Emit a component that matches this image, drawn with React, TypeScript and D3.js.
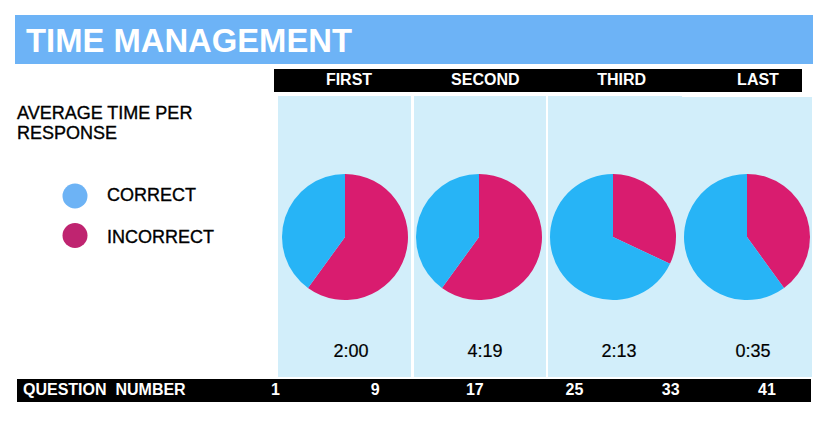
import React from "react";
import * as d3 from "d3";

const segments = ["FIRST", "SECOND", "THIRD", "LAST"];
const incorrectShare = [60, 60, 32, 40];
const correctShare = [40, 40, 68, 60];
const avgTimes = ["2:00", "4:19", "2:13", "0:35"];
const questionTicks = [1, 9, 17, 25, 33, 41];
const legendItems = ["CORRECT", "INCORRECT"];

const W = 839;
const H = 422;
const FONT = "'Liberation Sans', Arial, Helvetica, sans-serif";

const COLORS = {
  banner: "#6DB3F6",
  panel: "#D2EEFA",
  pieCorrect: "#27B4F6",
  pieIncorrect: "#D91C6F",
  legendCorrect: "#6DB3F5",
  legendIncorrect: "#BF2470",
};

export default function App() {
  const pieX = d3.scalePoint<string>().domain(segments).range([345, 747]);
  const headX = d3.scalePoint<string>().domain(segments).range([349, 758]);
  const qX = d3.scaleLinear().domain([1, 25, 41]).range([275.5, 574.5, 767]);
  const cy = 237;
  const r = 63;

  const pie = d3
    .pie<{ key: string; value: number }>()
    .sort(null)
    .value((d) => d.value)
    .startAngle(0)
    .endAngle(2 * Math.PI);
  const arc = d3.arc<d3.PieArcDatum<{ key: string; value: number }>>().innerRadius(0).outerRadius(r);

  const panels = [
    { x0: 278, x1: 411, y0: 96 },
    { x0: 414, x1: 546, y0: 96 },
    { x0: 548, x1: 682, y0: 96 },
    { x0: 682, x1: 812, y0: 97 },
  ];

  const darkText = { fill: "#000", stroke: "#000", strokeWidth: 0.35 };

  return (
    <svg
      width={W}
      height={H}
      style={{ position: "absolute", left: 0, top: 0, background: "#fff" }}
      fontFamily={FONT}
    >
      {/* Title banner */}
      <rect x={15} y={15} width={798} height={49} fill={COLORS.banner} />
      <text x={26} y={52} fill="#fff" fontWeight="bold" fontSize={34} textLength={326} lengthAdjust="spacingAndGlyphs">
        TIME MANAGEMENT
      </text>

      {/* Header bar */}
      <rect x={274} y={69} width={528} height={23} fill="#000" />
      {segments.map((s) => (
        <text key={s} x={headX(s)} y={85} fill="#fff" fontWeight="bold" fontSize={16} textAnchor="middle">
          {s}
        </text>
      ))}

      {/* Panels */}
      {panels.map((p, i) => (
        <rect key={i} x={p.x0} y={p.y0} width={p.x1 - p.x0} height={377 - p.y0} fill={COLORS.panel} />
      ))}

      {/* Left legend */}
      <text x={17} y={119} fontSize={18} {...darkText}>
        AVERAGE TIME PER
      </text>
      <text x={17} y={139} fontSize={18} {...darkText}>
        RESPONSE
      </text>
      {legendItems.map((l, i) => (
        <g key={l}>
          <circle cx={75} cy={196 + i * 39.5} r={12.5} fill={i === 0 ? COLORS.legendCorrect : COLORS.legendIncorrect} />
          <text x={107} y={201 + i * 42} fontSize={18} {...darkText}>
            {l}
          </text>
        </g>
      ))}

      {/* Pies */}
      {segments.map((s, i) => {
        const data = [
          { key: "incorrect", value: incorrectShare[i] },
          { key: "correct", value: correctShare[i] },
        ];
        const arcs = pie(data);
        return (
          <g key={s} transform={`translate(${pieX(s)},${cy})`}>
            {arcs.map((a) => (
              <path
                key={a.data.key}
                d={arc(a) || ""}
                fill={a.data.key === "correct" ? COLORS.pieCorrect : COLORS.pieIncorrect}
              />
            ))}
          </g>
        );
      })}

      {/* Average times */}
      {segments.map((s, i) => (
        <text key={s} x={(pieX(s) as number) + 6} y={357} fontSize={18} textAnchor="middle" fill="#000" stroke="#000" strokeWidth={0.2}>
          {avgTimes[i]}
        </text>
      ))}

      {/* Bottom bar */}
      <rect x={17} y={379} width={794} height={23} fill="#000" />
      <text x={23} y={395} fill="#fff" fontWeight="bold" fontSize={16} style={{ whiteSpace: "pre" }}>
        {"QUESTION  NUMBER"}
      </text>
      {questionTicks.map((q) => (
        <text key={q} x={qX(q)} y={395} fill="#fff" fontWeight="bold" fontSize={16} textAnchor="middle">
          {q}
        </text>
      ))}
    </svg>
  );
}
